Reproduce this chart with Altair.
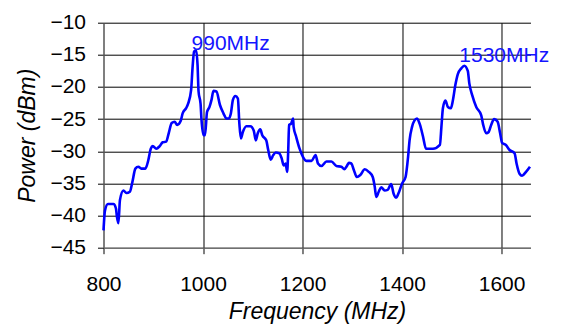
import altair as alt
import pandas as pd

freq = [800, 803, 809, 820, 825, 827, 830, 833, 840, 846, 853, 858, 864, 870, 876, 884,
        890, 895, 899, 906, 913, 919, 926, 931, 937, 943, 948, 955, 959, 966, 970, 976,
        979, 982, 986, 989, 991, 995, 997, 1001, 1004, 1008, 1013, 1017, 1021, 1027, 1034,
        1041, 1047, 1052, 1056, 1060, 1065, 1070, 1073, 1076, 1080, 1087, 1095, 1102, 1106,
        1110, 1115, 1119, 1127, 1131, 1136, 1141, 1146, 1153, 1158, 1162, 1166, 1169, 1171,
        1173, 1177, 1181, 1182, 1187, 1194, 1201, 1208, 1218, 1226, 1231, 1238, 1248, 1258,
        1268, 1278, 1284, 1289, 1293, 1298, 1303, 1309, 1316, 1325, 1333, 1341, 1345, 1348,
        1353, 1358, 1365, 1371, 1378, 1383, 1388, 1393, 1400, 1407, 1412, 1415, 1420, 1425,
        1430, 1436, 1442, 1448, 1462, 1476, 1479, 1482, 1487, 1492, 1498, 1502, 1507, 1512,
        1519, 1525, 1532, 1535, 1541, 1549, 1559, 1563, 1569, 1574, 1579, 1585, 1592, 1597,
        1601, 1608, 1616, 1626, 1630, 1636, 1641, 1649, 1657]
power = [-42.3, -39.2, -38.2, -38.2, -38.9, -40.2, -41.2, -37.6, -36.1, -36.5, -36.3, -34.8,
         -32.7, -32.4, -32.7, -32.7, -31.4, -29.6, -29.2, -29.6, -29.2, -28.6, -28.5, -27.2,
         -25.6, -25.4, -25.9, -25.3, -24.1, -23.3, -22.6, -20.5, -16.9, -14.5, -14.3, -16.6,
         -20.7, -22.6, -25.2, -27.5, -27.5, -23.9, -23.1, -22.0, -20.6, -20.7, -22.8, -24.1,
         -24.9, -24.9, -24.1, -22.0, -21.4, -21.8, -25.7, -28.0, -27.0, -26.1, -26.1, -26.8,
         -28.3, -27.2, -26.6, -27.5, -28.3, -29.8, -31.3, -30.6, -30.2, -30.3, -31.1, -32.2,
         -31.9, -33.2, -30.3, -25.9, -25.7, -24.9, -26.2, -27.7, -29.6, -30.9, -31.5, -31.5,
         -30.6, -31.9, -32.3, -31.6, -31.6, -32.3, -32.4, -32.8, -32.3, -31.8, -31.9, -32.9,
         -34.0, -33.7, -32.8, -33.2, -34.0, -35.5, -37.1, -36.3, -35.6, -36.1, -36.0, -35.1,
         -36.6, -37.2, -36.5, -35.0, -34.0, -30.9, -28.3, -26.2, -25.2, -24.9, -25.9, -27.7,
         -29.6, -29.6, -29.0, -26.2, -23.3, -22.1, -23.1, -23.3, -22.1, -19.7, -18.0, -17.1,
         -16.7, -17.5, -19.4, -21.3, -23.1, -24.4, -25.9, -27.2, -27.0, -25.9, -25.0, -25.4,
         -27.2, -28.7, -29.0, -29.8, -30.3, -31.9, -33.5, -33.8, -33.2, -32.4]

label_text = ["990MHz", "1530MHz"]
label_freq = [977, 1515]
label_power = [-14.25, -16.1]

x_ticks = [800, 1000, 1200, 1400, 1600]
y_ticks = [-45, -40, -35, -30, -25, -20, -15, -10]

df = pd.DataFrame({"freq": freq, "power": power})
lab = pd.DataFrame({"text": label_text, "freq": label_freq, "power": label_power})

FONT = "Liberation Sans"

x_scale = alt.Scale(domain=[800, 1658], nice=False, zero=False)
y_scale = alt.Scale(domain=[-45, -10], nice=False, zero=False)

common = dict(grid=True, gridColor="#000000", gridOpacity=1, gridWidth=1,
              domainColor="#808080", tickColor="#000000", tickSize=6,
              labelFontSize=21, labelFont=FONT, labelColor="#000000",
              labelOverlap=False, labelFlush=False,
              titleFont=FONT, titleFontSize=23, titleFontStyle="italic",
              titleFontWeight="normal", titleColor="#000000", format="d")

x_axis = alt.Axis(title="Frequency (MHz)", values=x_ticks, labelPadding=20,
                  titlePadding=6, **common)
y_axis = alt.Axis(title="Power (dBm)", values=y_ticks, labelPadding=12,
                  titlePadding=10, **common)

line = alt.Chart(df).mark_line(color="#0000ff", strokeWidth=2.6,
                               interpolate="monotone").encode(
    x=alt.X("freq:Q", scale=x_scale, axis=x_axis),
    y=alt.Y("power:Q", scale=y_scale, axis=y_axis),
)

text = alt.Chart(lab).mark_text(color="#1414ff", fontSize=21, font=FONT, align="left",
                                baseline="alphabetic").encode(
    x=alt.X("freq:Q", scale=x_scale, axis=x_axis),
    y=alt.Y("power:Q", scale=y_scale, axis=y_axis),
    text="text:N",
)

chart = alt.layer(line, text).properties(
    width=427, height=225,
    autosize=alt.AutoSizeParams(type="none"),
    padding={"left": 95.5, "top": 14.7, "right": 20, "bottom": 84},
).configure_view(stroke=None).configure_axis(domainWidth=1, tickWidth=1)

chart.save("out.html", embed_options={"renderer": "svg", "actions": False})
